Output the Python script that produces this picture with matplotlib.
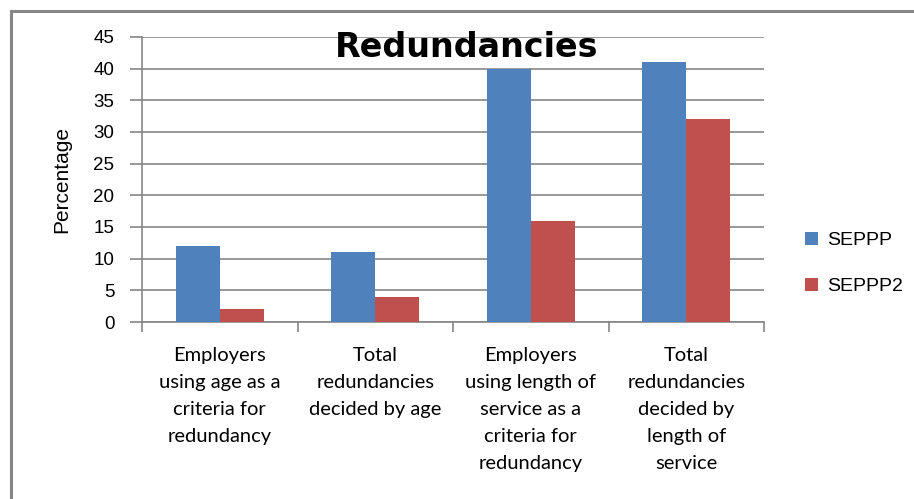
import numpy as np
import matplotlib
matplotlib.use('Agg')
import matplotlib.pyplot as plt
from matplotlib.lines import Line2D

categories = [
    "Employers\nusing age as a\ncriteria for\nredundancy",
    "Total\nredundancies\ndecided by age",
    "Employers\nusing length of\nservice as a\ncriteria for\nredundancy",
    "Total\nredundancies\ndecided by\nlength of\nservice",
]
seppp = [12, 11, 40, 41]
seppp2 = [2, 4, 16, 32]
series_names = ["SEPPP", "SEPPP2"]
yticks = [0, 5, 10, 15, 20, 25, 30, 35, 40, 45]

BLUE = '#4F81BD'
RED = '#C0504D'
GRID = '#868686'

fig = plt.figure(figsize=(9.14, 4.99), dpi=100)
fig.patch.set_facecolor('white')
ax = fig.add_axes([0.1554, 0.3547, 0.6805, 0.5712])

x = np.arange(len(categories))
w = 0.283
ax.bar(x - w / 2, seppp, width=w, color=BLUE, label=series_names[0], zorder=3)
ax.bar(x + w / 2, seppp2, width=w, color=RED, label=series_names[1], zorder=3)

ax.set_xlim(-0.5, len(categories) - 0.5)
ax.set_ylim(0, 45)
ax.set_yticks(yticks)
ax.set_yticklabels([str(v) for v in yticks], fontsize=13.5, family='Liberation Sans')
ax.yaxis.grid(True, color=GRID, linewidth=1.2, zorder=0)
ax.tick_params(axis='y', length=9, width=1.2, color=GRID, pad=11)

# category boundaries as ticks, labels at centres
ax.set_xticks(np.arange(-0.5, len(categories)), minor=False)
ax.set_xticklabels([''] * (len(categories) + 1))
ax.tick_params(axis='x', length=7, width=1.2, color=GRID)
for i, lab in enumerate(categories):
    ax.text(i, -3.9, lab, ha='center', va='top', fontsize=14.5,
            family='Lato', linespacing=1.72, transform=ax.transData)

for s in ['top', 'right']:
    ax.spines[s].set_visible(False)
for s in ['left', 'bottom']:
    ax.spines[s].set_color(GRID)
    ax.spines[s].set_linewidth(1.2)

ax.set_ylabel('Percentage', fontsize=15, family='Liberation Sans', labelpad=16)

fig.text(0.511, 0.905, 'Redundancies', ha='center', va='center',
         fontsize=24, fontweight='bold', family='DejaVu Sans')

ax.legend(loc='center left', bbox_to_anchor=(1.066, 0.205), frameon=False,
          handlelength=0.65, handleheight=0.65, borderaxespad=0, borderpad=0,
          labelspacing=1.45, handletextpad=0.5,
          prop={'family': 'Liberation Sans', 'size': 14})

# outer chart border (top and left only visible)
fig.add_artist(Line2D([0.012, 1.0], [0.978, 0.978], color=GRID, linewidth=2.2,
                      transform=fig.transFigure))
fig.add_artist(Line2D([0.012, 0.012], [0.0, 0.978], color=GRID, linewidth=2.2,
                      transform=fig.transFigure))

fig.savefig('out.png', dpi=100, facecolor='white')
